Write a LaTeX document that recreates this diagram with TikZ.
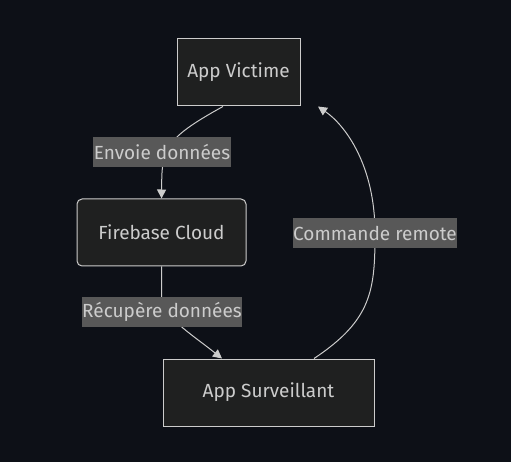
\documentclass[tikz,border=0pt]{standalone}
\usepackage{fontspec}
\setmainfont{Fira Sans}
\usetikzlibrary{arrows.meta}
\definecolor{bgc}{HTML}{0D1017}
\definecolor{nodefill}{HTML}{1F2020}
\definecolor{nodeline}{HTML}{CCCCCC}
\definecolor{txt}{HTML}{CCCCCC}
\definecolor{lblbg}{HTML}{585858}
\definecolor{edgec}{HTML}{CCCCCC}
\tikzset{
  box/.style={draw=nodeline, fill=nodefill, line width=1pt, text=txt, inner sep=0pt,
    font=\fontsize{19}{22}\selectfont},
  lbl/.style={fill=lblbg, text=txt, inner xsep=0.5pt, inner ysep=0pt, minimum height=30pt,
    font=\fontsize{19}{22}\selectfont},
  edge/.style={draw=edgec, line width=1pt, -{Triangle[length=9pt,width=9pt]}},
}
\begin{document}
\begin{tikzpicture}[x=1pt,y=-1pt]
\useasboundingbox[fill=bgc] (0,0) rectangle (511,462);
\node[box, minimum width=123pt, minimum height=67pt] (victime) at (238.5,72.5) {App Victime};
\node[box, rounded corners=5pt, minimum width=169pt, minimum height=67pt] (firebase) at (161.5,232.5) {Firebase Cloud};
\node[box, minimum width=211pt, minimum height=67pt] (surv) at (268.5,392.5) {App Surveillant};

\draw[edge] ([xshift=-15.5pt]victime.south) .. controls (162,140) and (162,150) .. (firebase.north);
\draw[edge] (firebase.south) -- (161.5,296) .. controls (161.5,316) and (190,333) .. ([xshift=-46.5pt]surv.north);
\draw[edge] ([xshift=45.5pt]surv.north) .. controls (372,320) and (375,290) .. (375,233)
  .. controls (375,165) and (345,125) .. ([xshift=79.5pt]victime.south);

\node[lbl] (l1) at (162,152) {Envoie données};
\node[lbl] (l2) at (375,233) {Commande remote};
\node[lbl] (l3) at (162,312) {Récupère données};
\end{tikzpicture}
\end{document}
